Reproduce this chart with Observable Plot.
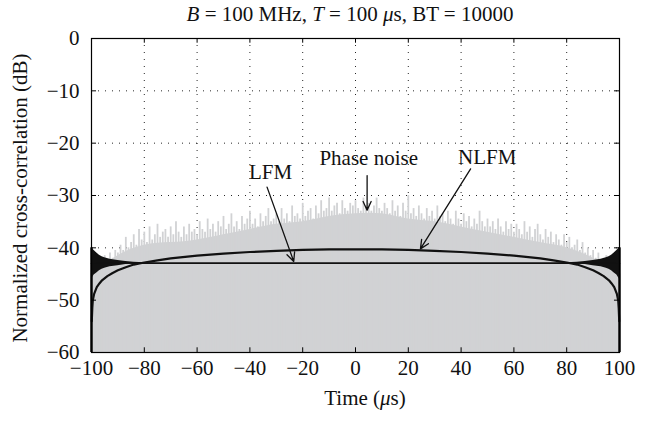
<!DOCTYPE html>
<html><head><meta charset="utf-8">
<script src="https://cdn.jsdelivr.net/npm/d3@7"></script>
<script src="https://cdn.jsdelivr.net/npm/@observablehq/plot@0.6"></script>
<style>
body{margin:0;background:#fff;}
#chart svg{font-family:"Liberation Serif",serif;}
</style>
</head><body><div id="chart"></div>
<script>
// Phase noise: dense body level (every 10 us) and spike tops (every 1 us)
const baseTime = [-100, -90, -80, -70, -60, -50, -40, -30, -20, -10, 0, 10, 20, 30, 40, 50, 60, 70, 80, 90, 100];
const baseDb   = [-45, -41.5, -39.5, -39, -38.5, -37.5, -36.5, -35.5, -35, -34, -33.5, -33.5, -34.5, -35, -36, -37, -38, -39, -40, -42, -45];

const noiseTime = d3.range(-100, 101, 1);
const noiseDb = [
 -45, -44, -43.5, -42, -43, -41.5, -42.5, -41, -42, -40.5,
 -41, -39.5, -40.5, -38, -40, -39, -37.5, -39.5, -36.5, -38.5,
 -37, -39, -36, -38.5, -37.5, -35.5, -38, -37, -36.5, -38,
 -36, -37.5, -35, -37, -38, -36, -37.5, -35.5, -37, -36.5,
 -37.5, -35, -36.5, -37, -34.5, -36.5, -35.5, -37, -35, -36,
 -34, -36.5, -35.5, -33.5, -36, -35, -36.5, -34, -35.5, -34.5,
 -33, -35.5, -34.5, -36, -33.5, -35, -34, -32.5, -35, -34.5,
 -33.5, -35, -32.5, -34.5, -33.5, -35, -32, -34, -33.5, -34.5,
 -31.5, -34, -33, -32.5, -34.5, -32, -33.5, -31, -33, -32.5,
 -30.5, -33, -32, -31.5, -33.5, -31, -32.5, -33, -31.5, -32,
 -31, -32.5, -33, -30.5, -32, -31.5, -33, -32, -30.5, -32.5,
 -33, -31.5, -32.5, -33.5, -31, -33, -32, -34, -31.5, -33,
 -30, -33.5, -32.5, -34, -32, -33.5, -34.5, -32.5, -34, -33,
 -34.5, -32, -34, -33.5, -35, -33, -34.5, -35.5, -33, -34.5,
 -35.5, -33.5, -35, -34, -36, -34.5, -35.5, -33, -35, -36,
 -34.5, -36, -35, -36.5, -34.5, -36, -37, -35, -36.5, -35.5,
 -37, -35.5, -36.5, -37.5, -35, -37, -36, -38, -36.5, -35.5,
 -37.5, -38.5, -36.5, -38, -37, -39, -37.5, -38.5, -39.5, -37.5,
 -39, -38, -40, -39.5, -38.5, -40.5, -39, -41, -40, -41.5,
 -40.5, -42, -41, -43, -42, -41.5, -43.5, -42.5, -44, -43.5,
 -45
];

// LFM: flat level with flaring sidelobes at both ends
const lfmTime = [-100, -99, -98, -97, -96, -95, -93, -90, -87, -84, -80, -75, 75, 80, 84, 87, 90, 93, 95, 96, 97, 98, 99, 100];
const lfmHigh = [-40.0, -40.5, -41.0, -41.4, -41.7, -41.9, -42.2, -42.4, -42.6, -42.75, -42.85, -42.9, -42.9, -42.85, -42.75, -42.6, -42.4, -42.2, -41.9, -41.7, -41.4, -41.0, -40.5, -40.0];
const lfmLow  = [-46.0, -45.2, -44.8, -44.4, -44.1, -43.9, -43.6, -43.4, -43.2, -43.1, -43.0, -42.97, -42.97, -43.0, -43.1, -43.2, -43.4, -43.6, -43.9, -44.1, -44.4, -44.8, -45.2, -46.0];

// NLFM: arched curve
const nlfmTime = [-99.9, -99.7, -99.5, -99, -98, -97, -96, -94, -92, -90, -87, -84, -80, -75, -70, -60, -50, -40, -30, -20, -10, 0, 10, 20, 30, 40, 50, 60, 70, 75, 80, 84, 87, 90, 92, 94, 96, 97, 98, 99, 99.5, 99.7, 99.9];
const nlfmDb   = [-54, -51.5, -50, -48.8, -47.5, -46.8, -46.2, -45.4, -44.8, -44.3, -43.7, -43.2, -42.8, -42.4, -42.0, -41.5, -41.1, -40.8, -40.6, -40.4, -40.3, -40.3, -40.3, -40.4, -40.6, -40.8, -41.1, -41.5, -42.0, -42.4, -42.8, -43.2, -43.7, -44.3, -44.8, -45.4, -46.2, -46.8, -47.5, -48.8, -50, -51.5, -54];

// Edge spikes at the pulse ends
const edgeTime = [-100, 100];
const edgeTop = [-40, -40];

const xTicks = [-100, -80, -60, -40, -20, 0, 20, 40, 60, 80, 100];
const yTicks = [0, -10, -20, -30, -40, -50, -60];

// Annotations
const labels = [
  {text: "LFM", x: -32.2, y: -25.6},
  {text: "Phase noise", x: 5.0, y: -22.8},
  {text: "NLFM", x: 49.9, y: -22.6}
];
const arrows = [
  {x1: -33.5, y1: -28.4, x2: -23.4, y2: -42.6},
  {x1: 4.4, y1: -26.2, x2: 4.4, y2: -32.8},
  {x1: 43.6, y1: -24.9, x2: 24.6, y2: -40.2}
];

const base = baseTime.map((t, i) => ({t, v: baseDb[i]}));
const noise = noiseTime.map((t, i) => ({t, v: noiseDb[i]}));
const lfm = lfmTime.map((t, i) => ({t, hi: lfmHigh[i], lo: lfmLow[i]}));
const nlfm = nlfmTime.map((t, i) => ({t, v: nlfmDb[i]}));
const edges = edgeTime.map((t, i) => ({t, top: edgeTop[i]}));

const FS = 21;
const GRAY = "#d1d2d4";
const plot = Plot.plot({
  width: 651, height: 421,
  marginLeft: 91, marginRight: 32, marginTop: 38, marginBottom: 69,
  style: {fontFamily: "Liberation Serif, serif", fontSize: FS + "px", color: "#111", background: "#fff"},
  x: {domain: [-100, 100], ticks: xTicks, label: null},
  y: {domain: [-60, 0], ticks: yTicks, label: null},
  marks: [
    Plot.gridX(xTicks.slice(1, -1), {stroke: "#000", strokeOpacity: 0.85, strokeDasharray: "1,6", strokeWidth: 1}),
    Plot.gridY(yTicks.slice(1, -1), {stroke: "#000", strokeOpacity: 0.85, strokeDasharray: "1,6", strokeWidth: 1}),
    Plot.areaY(base, {x: "t", y1: -60, y2: "v", fill: GRAY, curve: "natural"}),
    Plot.ruleX(noise, {x: "t", y1: -60, y2: "v", stroke: GRAY, strokeWidth: 1.8}),
    Plot.areaY(lfm, {x: "t", y1: "lo", y2: "hi", fill: "#111"}),
    Plot.line(lfm, {x: "t", y: d => (d.hi + d.lo) / 2, stroke: "#111", strokeWidth: 1.6}),
    Plot.line(nlfm, {x: "t", y: "v", stroke: "#111", strokeWidth: 2.2}),
    Plot.ruleX(edges, {x: "t", y1: -60, y2: "top", stroke: "#111", strokeWidth: 2.5}),
    Plot.ruleX(xTicks.slice(1, -1), {x: d => d, y1: -60, y2: -59.1, stroke: "#000"}),
    Plot.ruleX(xTicks.slice(1, -1), {x: d => d, y1: 0, y2: -0.9, stroke: "#000"}),
    Plot.ruleY(yTicks.slice(1, -1), {y: d => d, x1: -100, x2: -98.1, stroke: "#000"}),
    Plot.ruleY(yTicks.slice(1, -1), {y: d => d, x1: 100, x2: 98.1, stroke: "#000"}),
    Plot.frame({stroke: "#000", strokeWidth: 1.2}),
    Plot.axisX(xTicks, {tickSize: 0, tickPadding: 8, fontSize: FS}),
    Plot.axisY(yTicks, {tickSize: 0, tickPadding: 12, fontSize: FS}),
    Plot.arrow(arrows, {x1: "x1", y1: "y1", x2: "x2", y2: "y2", stroke: "#111", strokeWidth: 1.3, headLength: 11, headAngle: 50}),
    Plot.text(labels, {x: "x", y: "y", text: "text", fontSize: 21, fill: "#111"})
  ]
});
document.getElementById("chart").appendChild(plot);

const svg = d3.select(plot);
// Title
const title = svg.append("text").attr("x", 350).attr("y", 21)
  .attr("text-anchor", "middle").attr("font-size", 21).attr("fill", "#111")
  .style("font-family", "Liberation Serif, serif");
title.append("tspan").attr("font-style", "italic").text("B");
title.append("tspan").text(" = 100 MHz, ");
title.append("tspan").attr("font-style", "italic").text("T");
title.append("tspan").text(" = 100 ");
title.append("tspan").attr("font-style", "italic").text("μ");
title.append("tspan").text("s, BT = 10000");
// x label
const xl = svg.append("text").attr("x", 365).attr("y", 405)
  .attr("text-anchor", "middle").attr("font-size", FS).attr("fill", "#111")
  .style("font-family", "Liberation Serif, serif");
xl.append("tspan").text("Time (");
xl.append("tspan").attr("font-style", "italic").text("μ");
xl.append("tspan").text("s)");
// y label
svg.append("text").attr("transform", "translate(27,198) rotate(-90)")
  .attr("text-anchor", "middle").attr("font-size", FS).attr("fill", "#111")
  .style("font-family", "Liberation Serif, serif")
  .text("Normalized cross-correlation (dB)");
</script>
</body></html>
